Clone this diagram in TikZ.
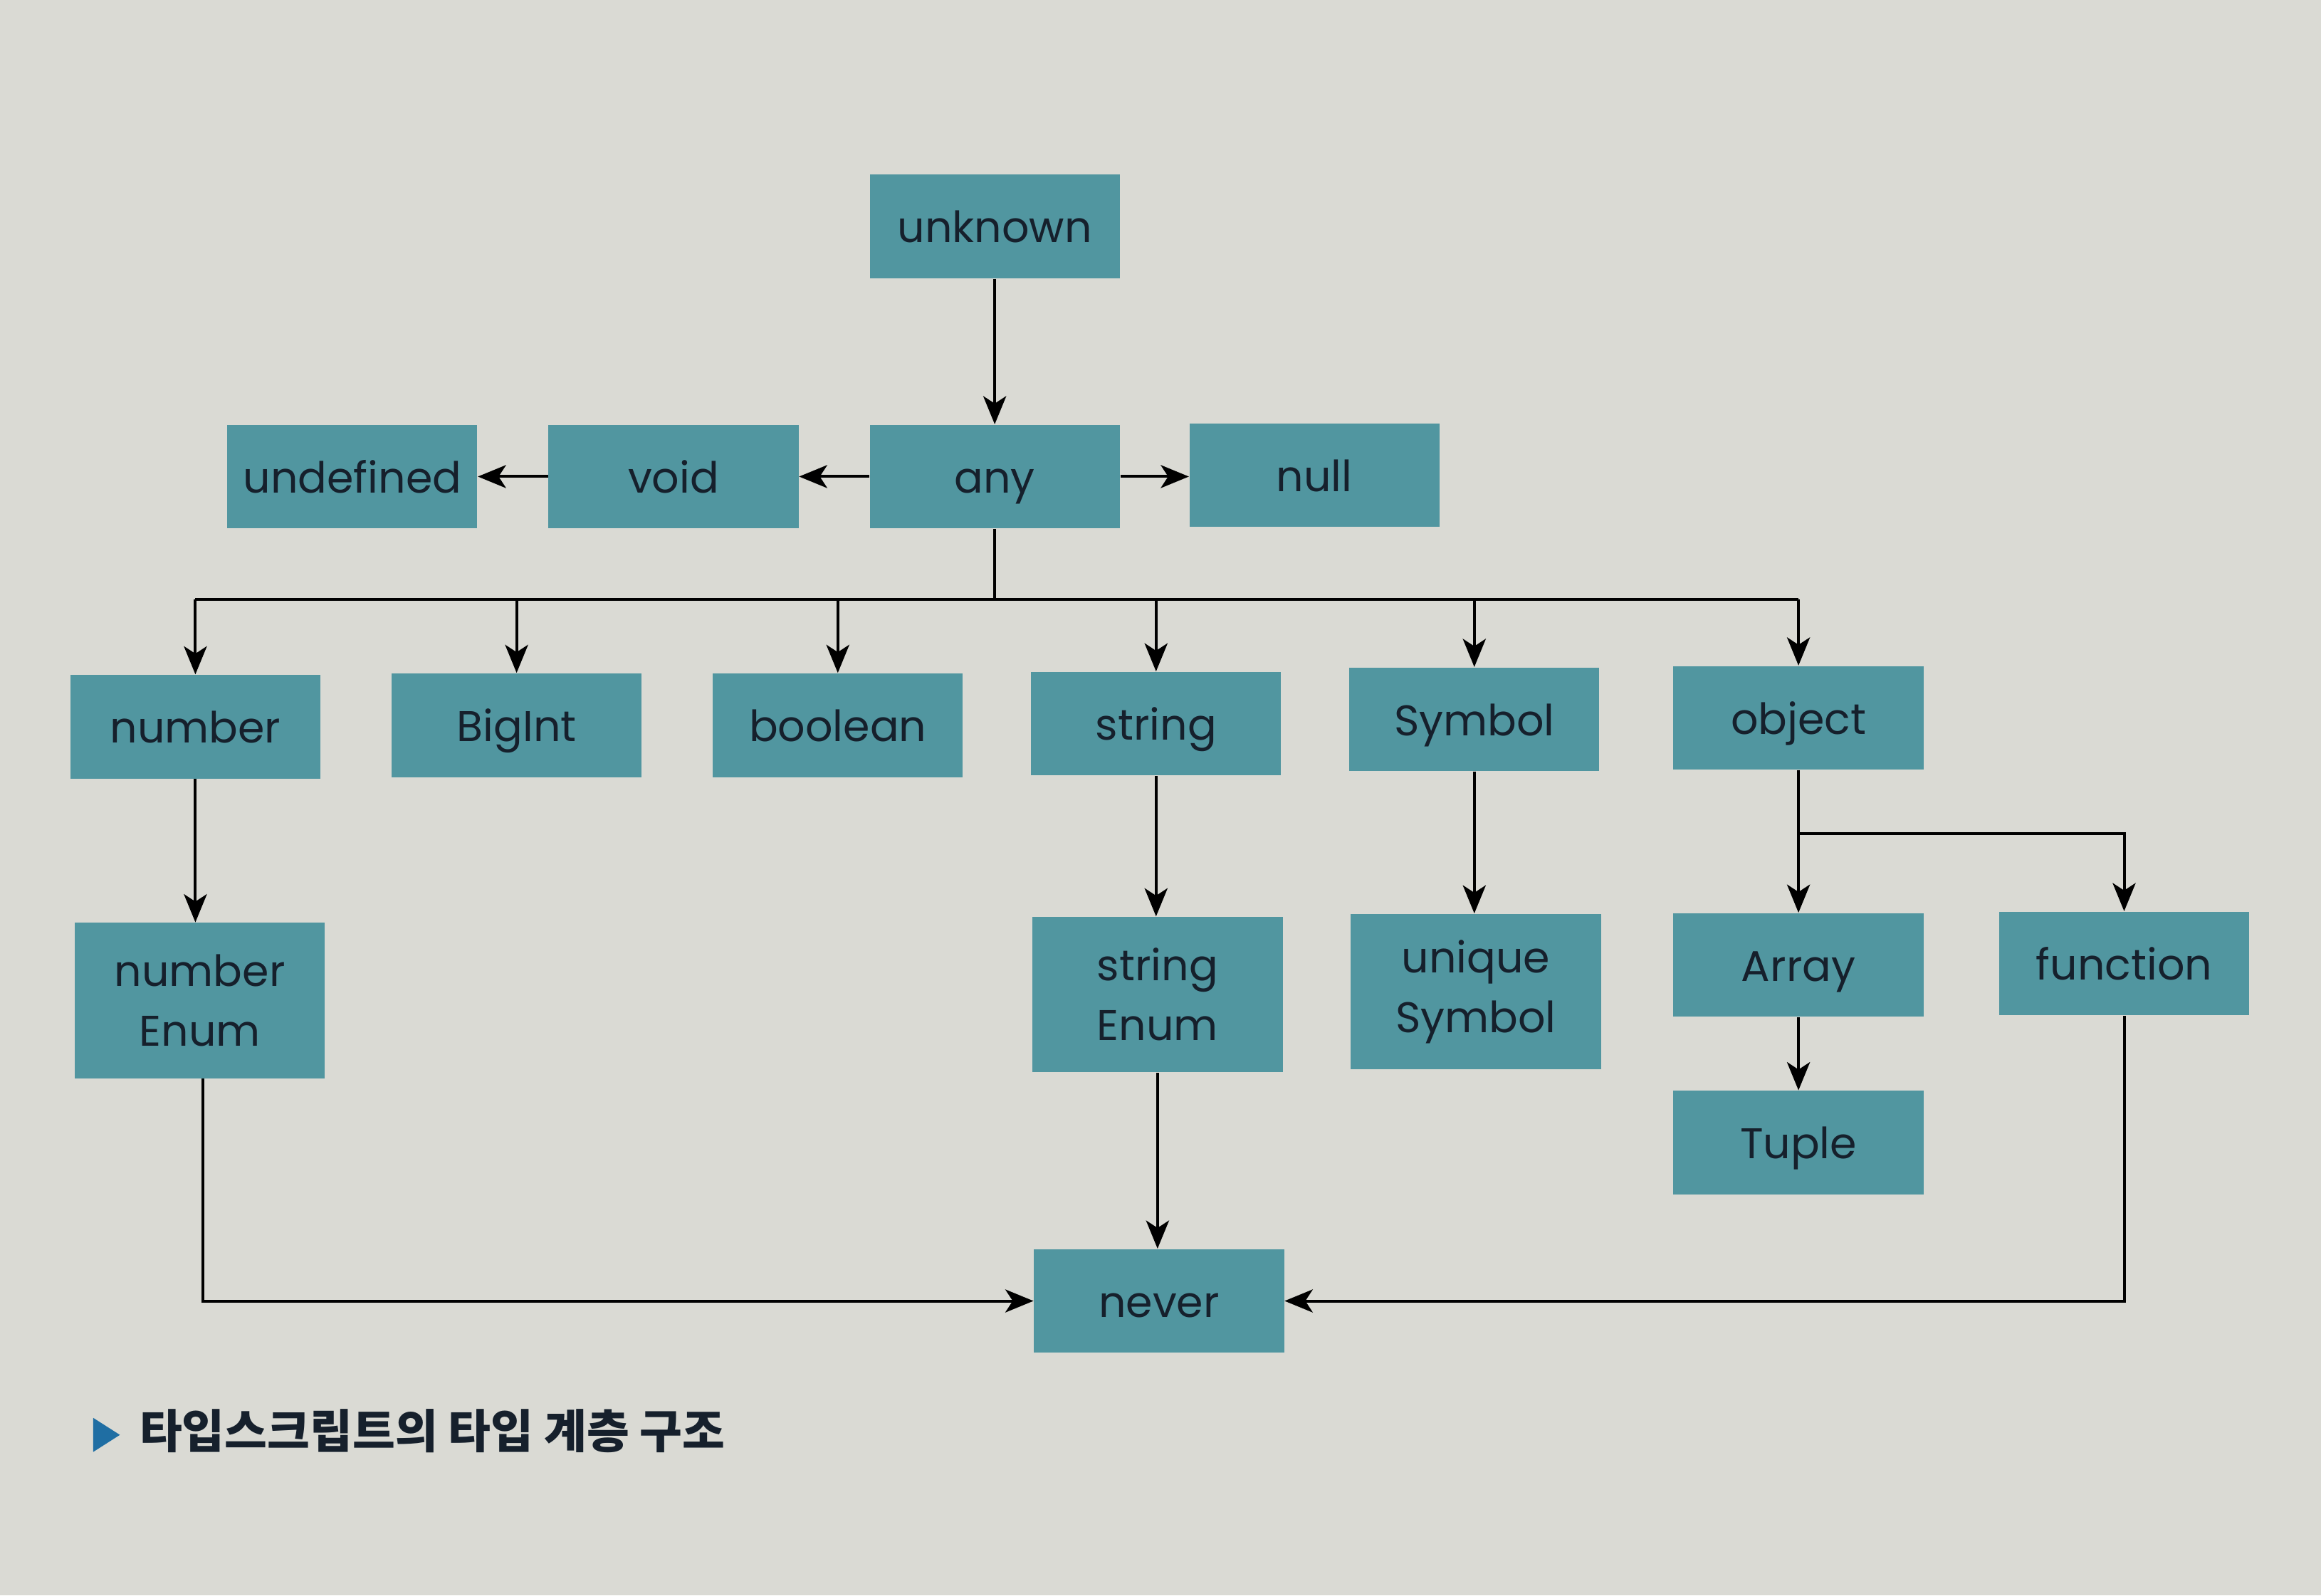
\documentclass[tikz,border=0pt]{standalone}
\usepackage{fontspec}
\setmainfont{Poppins}
\newfontfamily\cjk{Noto Sans CJK KR}
\usetikzlibrary{arrows.meta}
\definecolor{paper}{HTML}{DADAD4}
\definecolor{boxfill}{HTML}{5196A0}
\definecolor{ink}{HTML}{16202C}
\definecolor{markblue}{HTML}{1F6EA3}
\tikzset{
  tbox/.style={fill=boxfill, draw=none, inner sep=0pt, minimum width=3.38cm, minimum height=1.4cm,
    text=ink, font=\fontsize{16.5}{23}\selectfont, align=center, text height=15pt, text depth=2.5pt},
  tallbox/.style={tbox, minimum height=2.1cm, text height=, text depth=},
  conn/.style={draw=black, line width=1.1pt},
  arr/.style={conn, -{Stealth[length=0.38cm,width=0.31cm,inset=0.1cm]}}
}
\begin{document}
\begin{tikzpicture}[x=0.02cm,y=-0.02cm]
\fill[paper] (0,0) rectangle (1568,1078);
\useasboundingbox (0,0) rectangle (1568,1078);
% nodes
\node[tbox] (unknown) at (672,153) {unknown};
\node[tbox] (any) at (672,322) {any};
\node[tbox] (void) at (455,322) {void};
\node[tbox] (undefined) at (238,322) {undefined};
\node[tbox] (null) at (888,321) {null};
\node[tbox] (number) at (132,491) {number};
\node[tbox] (bigint) at (349,490) {BigInt};
\node[tbox] (boolean) at (566,490) {boolean};
\node[tbox] (string) at (781,489) {string};
\node[tbox] (symbol) at (996,486) {Symbol};
\node[tbox] (object) at (1215,485) {object};
\node[tallbox] (numenum) at (135,676) {number\\Enum};
\node[tallbox] (strenum) at (782,672) {string\\Enum};
\node[tallbox] (usym) at (997,670) {unique\\Symbol};
\node[tbox] (array) at (1215,652) {Array};
\node[tbox] (function) at (1435,651) {function};
\node[tbox] (tuple) at (1215,772) {Tuple};
\node[tbox] (never) at (783,879) {never};
% connectors
\draw[arr] (unknown) -- (any);
\draw[arr] (any) -- (void);
\draw[arr] (void) -- (undefined);
\draw[arr] (any.east) -- (any.east -| null.west);
\coordinate (bus) at (672,405);
\draw[conn] (any.south) -- (bus);
\draw[conn] (bus -| number) -- (bus -| object);
\foreach \n in {number,bigint,boolean,string,symbol,object}
  \draw[arr] (bus -| \n) -- (\n.north);
\draw[arr] (number.south) -- (number.south |- numenum.north);
\draw[arr] (string) -- (string.south |- strenum.north);
\draw[arr] (symbol) -- (symbol.south |- usym.north);
\draw[arr] (object) -- (array);
\coordinate (br) at (1215,563);
\draw[arr] (br) -| (function.north);
\draw[arr] (array) -- (tuple);
\draw[arr] (strenum) -- (strenum.south |- never.north);
\draw[arr] ([xshift=0.04cm]numenum.south) |- (never.west);
\draw[arr] (function.south) |- (never.east);
% caption
\coordinate (tri) at (63,958);
\fill[markblue] (tri) -- ++(0,23) -- ++(18,-11.5) -- cycle;
\node[anchor=west, inner sep=0pt, text=ink, font=\cjk\bfseries\fontsize{17.8}{20}\selectfont] (caption) at (94,967) {타입스크립트의 타입 계층 구조};
\end{tikzpicture}
\end{document}
